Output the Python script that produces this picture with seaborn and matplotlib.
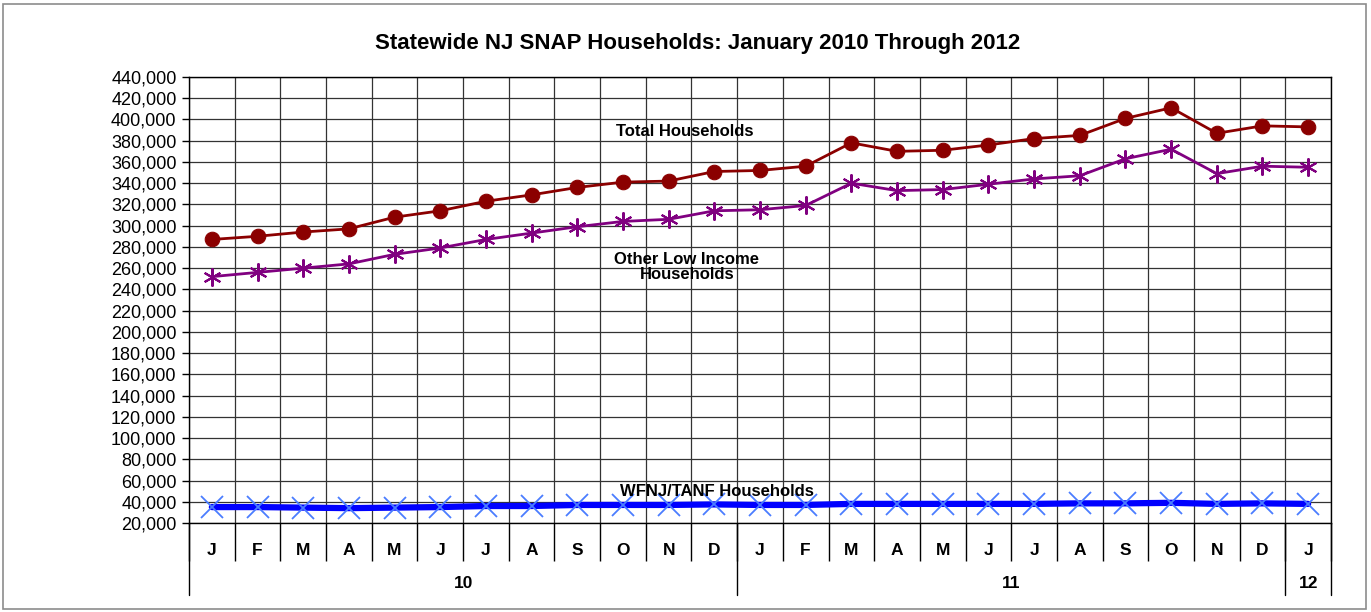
import numpy as np
import pandas as pd
import matplotlib
matplotlib.use("Agg")
import matplotlib.pyplot as plt
import matplotlib.transforms as mtransforms
from matplotlib.patches import Rectangle
from matplotlib.ticker import FuncFormatter
import seaborn as sns

# ---------------- data ----------------
months = ["J", "F", "M", "A", "M", "J", "J", "A", "S", "O", "N", "D",
          "J", "F", "M", "A", "M", "J", "J", "A", "S", "O", "N", "D",
          "J"]
years = ["10", "11", "12"]
months_per_year = [12, 12, 1]

total = [287000, 290000, 294000, 297000, 308000, 314000, 323000, 329000,
         336000, 341000, 342000, 351000, 352000, 356000, 378000, 370000,
         371000, 376000, 382000, 385000, 401000, 411000, 387000, 394000,
         393000]
other_low = [252000, 256000, 260000, 264000, 273000, 279000, 287000, 293000,
             299000, 304000, 306000, 314000, 315000, 319000, 340000, 333000,
             334000, 339000, 344000, 347000, 363000, 372000, 349000, 356000,
             355000]
wfnj_tanf = [35000, 35000, 34500, 34000, 34500, 35000, 36000, 36000,
             37000, 37000, 37000, 37500, 37000, 37000, 38000, 38000,
             38000, 38000, 38000, 38500, 38500, 39000, 38000, 38500,
             38000]

df = pd.DataFrame({"idx": np.arange(len(months)), "total": total,
                   "other": other_low, "wfnj": wfnj_tanf})

sns.set_style("white")
plt.rcParams["font.family"] = ["Liberation Sans", "DejaVu Sans"]
plt.rcParams["text.color"] = "black"
plt.rcParams["xtick.color"] = "black"
plt.rcParams["ytick.color"] = "black"

fig = plt.figure(figsize=(13.71, 6.12), dpi=100)
ax = fig.add_axes([189 / 1371, 89 / 612, 1142 / 1371, 446 / 612])

# outer frame of the whole chart
fig.patches.append(Rectangle((3 / 1371, 3 / 612), 1363 / 1371, 605 / 612,
                             transform=fig.transFigure, fill=False,
                             edgecolor="#8c8c8c", lw=1.2))

sns.lineplot(data=df, x="idx", y="total", ax=ax, color="#8B0000", lw=2,
             marker="o", markersize=10.5, markeredgecolor="#8B0000")
sns.lineplot(data=df, x="idx", y="other", ax=ax, color="#800080", lw=2,
             marker=(6, 2, 0), markersize=13, markeredgecolor="#800080",
             markeredgewidth=1.5)
sns.lineplot(data=df, x="idx", y="wfnj", ax=ax, color="#0000FF", lw=4.5)
ax.plot(df["idx"], df["wfnj"], ls="none", marker="x", markersize=16,
        markeredgecolor="#4A7DFF", markeredgewidth=1.3)

ax.set_xlim(-0.5, len(months) - 0.5)
ax.set_ylim(20000, 440000)
ax.set_yticks(np.arange(20000, 440001, 20000))
ax.yaxis.set_major_formatter(FuncFormatter(lambda v, p: f"{int(v):,}"))
ax.set_xticks(np.arange(len(months)), labels=months)
ax.set_xticks(np.arange(len(months) + 1) - 0.5, minor=True)
ax.set_xlabel("")
ax.set_ylabel("")

ax.tick_params(axis="y", which="major", left=True, length=5, width=1,
               color="black", labelsize=13, pad=4)
ax.tick_params(axis="x", which="major", bottom=False, labelsize=12.5,
               pad=11)
ax.tick_params(axis="x", which="minor", bottom=True, length=27, width=1,
               color="black")
for lab in ax.get_xticklabels():
    lab.set_fontweight("bold")

ax.grid(True, which="major", axis="y", color="#333333", lw=0.9)
ax.grid(True, which="minor", axis="x", color="#333333", lw=0.9)
for s in ax.spines.values():
    s.set_visible(True)
    s.set_color("black")
    s.set_linewidth(1)

# year row below the month labels
trans = mtransforms.blended_transform_factory(ax.transData, ax.transAxes)
start = 0
bounds = [-0.5]
for yr, n in zip(years, months_per_year):
    ax.text(start - 0.5 + n / 2, -60 / 446, yr, transform=trans,
            ha="center", va="center", fontsize=12.5, fontweight="bold")
    start += n
    bounds.append(start - 0.5)
for b in bounds:
    ax.plot([b, b], [0, -72 / 446], transform=trans, color="black", lw=1,
            clip_on=False)

# series labels
ax.text(10.35, 389000, "Total Households", ha="center", va="center",
        fontsize=12, fontweight="bold")
ax.text(10.4, 261000, "Other Low Income\nHouseholds", ha="center",
        va="center", fontsize=12, fontweight="bold", linespacing=1.05)
ax.text(11.05, 50000, "WFNJ/TANF Households", ha="center", va="center",
        fontsize=12, fontweight="bold")

fig.text(698 / 1371, 1 - 44 / 612,
         "Statewide NJ SNAP Households: January 2010 Through 2012",
         ha="center", va="center", fontsize=16, fontweight="bold")

fig.savefig("out.png", dpi=100)
